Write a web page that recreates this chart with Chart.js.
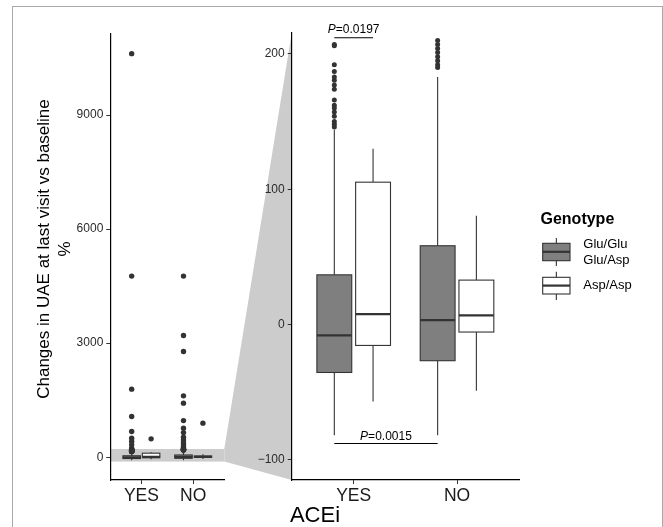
<!DOCTYPE html>
<html><head><meta charset="utf-8">
<script src="https://cdn.jsdelivr.net/npm/chart.js@4.4.1/dist/chart.umd.min.js"></script>
<style>
html,body{margin:0;padding:0;background:#fff;}
#wrap{position:relative;width:663px;height:527px;overflow:hidden;background:#fff;}
.cv{position:absolute;left:0;top:0;width:663px;height:527px;}
#frame{position:absolute;left:11.5px;top:5.5px;width:651px;height:560px;border:1.5px solid #a9a9a9;box-sizing:border-box;}
</style></head><body>
<div id="wrap"><div id="frame"></div>
<div class="cv"><canvas id="cL"></canvas></div>
<div class="cv"><canvas id="cR"></canvas></div>
</div>
<script>
// ---------- data ----------
const categories = ['YES', 'NO'];
const genotypes = ['Glu/Glu\nGlu/Asp', 'Asp/Asp'];
// box statistics, one entry per category [YES, NO]
const gluLow  = [-82, -82];
const gluQ1   = [-35.5, -26.8];
const gluMed  = [-8.1, 3.2];
const gluQ3   = [36.7, 58.2];
const gluHigh = [144, 183];
const aspLow  = [-57, -49];
const aspQ1   = [-15.5, -5.6];
const aspMed  = [7.7, 6.7];
const aspQ3   = [105.2, 32.8];
const aspHigh = [130, 80.3];
// outliers
const gluOutYes = [10615, 4764, 1790, 1069, 674, 500, 411, 324, 237, 207, 206, 192, 187, 183, 180.6, 177, 174, 166, 162, 160, 157, 154, 150, 148, 146];
const aspOutYes = [482];
const gluOutNo  = [4764, 3200, 2780, 1613, 1421, 963, 763, 647, 526, 450, 380, 320, 260, 230, 210, 207, 204, 201, 198, 195, 192, 190];
const aspOutNo  = [895];
// ticks and ranges
const leftTicks  = [0, 3000, 6000, 9000];
const rightTicks = [-100, 0, 100, 200];
const fullRange  = [-600, 11150];
const zoomRange  = [-115, 215.5];
// significance brackets: [category, genotype] pairs
const comparisons = [
  {a: [0, 0], b: [0, 1], y: 212, p: '0.0197'},
  {a: [0, 0], b: [1, 0], y: -88, p: '0.0015'}
];
const yTitle = ['Changes in UAE at last visit vs baseline', '%'];
const xTitle = 'ACEi';
const legendTitle = 'Genotype';

// ---------- styling ----------
const FONT = "'Liberation Sans', Arial, Helvetica, sans-serif";
Chart.defaults.font.family = FONT;
const DODGE = [-0.1875, 0.1875];
const HALF = 0.16875;
const FILLS = ['#7f7f7f', '#ffffff'];
const LINE = '#333333';
const stats = [
  {low: gluLow, q1: gluQ1, med: gluMed, q3: gluQ3, high: gluHigh},
  {low: aspLow, q1: aspQ1, med: aspMed, q3: aspQ3, high: aspHigh}
];
const outliers = [[gluOutYes, gluOutNo], [aspOutYes, aspOutNo]];

function outlierData(g) {
  const pts = [];
  outliers[g].forEach((arr, c) => arr.forEach(v => pts.push({x: c + 1 + DODGE[g], y: v})));
  return pts;
}

function drawBoxes(chart) {
  const ctx = chart.ctx, xs = chart.scales.x, ys = chart.scales.y;
  ctx.save();
  ctx.beginPath();
  ctx.rect(chart.chartArea.left, chart.chartArea.top, chart.chartArea.right - chart.chartArea.left, chart.chartArea.bottom - chart.chartArea.top);
  ctx.clip();
  for (let g = 0; g < 2; g++) {
    const s = stats[g];
    for (let c = 0; c < categories.length; c++) {
      const cx = xs.getPixelForValue(c + 1 + DODGE[g]);
      const x0 = xs.getPixelForValue(c + 1 + DODGE[g] - HALF);
      const x1 = xs.getPixelForValue(c + 1 + DODGE[g] + HALF);
      const yl = ys.getPixelForValue(s.low[c]), y1 = ys.getPixelForValue(s.q1[c]);
      const ym = ys.getPixelForValue(s.med[c]), y3 = ys.getPixelForValue(s.q3[c]);
      const yh = ys.getPixelForValue(s.high[c]);
      ctx.strokeStyle = LINE; ctx.lineWidth = 1.1;
      ctx.beginPath(); ctx.moveTo(cx, y1); ctx.lineTo(cx, yl); ctx.moveTo(cx, y3); ctx.lineTo(cx, yh); ctx.stroke();
      ctx.fillStyle = FILLS[g];
      ctx.fillRect(x0, y3, x1 - x0, y1 - y3);
      ctx.strokeRect(x0, y3, x1 - x0, y1 - y3);
      ctx.lineWidth = 2.2;
      ctx.beginPath(); ctx.moveTo(x0, ym); ctx.lineTo(x1, ym); ctx.stroke();
    }
  }
  ctx.restore();
}

function scaleOpts(range, ticks, yWidth) {
  return {
    x: {
      type: 'linear', min: 0.4, max: 2.6,
      afterBuildTicks: s => { s.ticks = [{value: 1}, {value: 2}]; },
      afterFit: s => { s.height = 47; },
      ticks: {callback: v => categories[v - 1], color: '#1a1a1a', font: {size: 17.5}, padding: 1.5, maxRotation: 0, autoSkip: false},
      grid: {display: true, drawOnChartArea: false, drawTicks: true, tickLength: 4, color: LINE, lineWidth: 1},
      border: {display: true, color: '#000', width: 1.2}
    },
    y: {
      type: 'linear', min: range[0], max: range[1],
      afterBuildTicks: s => { s.ticks = ticks.map(v => ({value: v})); },
      afterFit: s => { s.width = yWidth; },
      ticks: {callback: v => v < 0 ? '\u2212' + Math.abs(v) : String(v), color: '#2b2b2b', font: {size: 12}, padding: 3},
      grid: {display: true, drawOnChartArea: false, drawTicks: true, tickLength: 4, color: LINE, lineWidth: 1},
      border: {display: true, color: '#000', width: 1.2}
    }
  };
}

function datasets(r) {
  return [0, 1].map(g => ({
    data: outlierData(g), pointRadius: r, pointHoverRadius: r, backgroundColor: LINE, borderWidth: 0, clip: 0
  }));
}

const baseOpts = {
  responsive: true, maintainAspectRatio: false, animation: false, events: [],
  plugins: {legend: {display: false}, tooltip: {enabled: false}}
};

// ---------- left (full range) panel ----------
const leftChart = new Chart(document.getElementById('cL'), {
  type: 'scatter',
  data: {datasets: datasets(2.7)},
  options: Object.assign({}, baseOpts, {
    layout: {autoPadding: false, padding: {left: 0, top: 33.3, right: 663 - 224.3, bottom: 0}},
    scales: scaleOpts(fullRange, leftTicks, 110.3)
  }),
  plugins: [{
    id: 'band',
    beforeDraw(chart) {
      const ctx = chart.ctx, a = chart.chartArea, ys = chart.scales.y;
      const t = ys.getPixelForValue(zoomRange[1]), b = ys.getPixelForValue(zoomRange[0]);
      ctx.save(); ctx.fillStyle = '#cccccc';
      ctx.fillRect(a.left, t, a.right - a.left, b - t);
      ctx.restore();
    },
    beforeDatasetsDraw: drawBoxes
  }]
});

// ---------- right (zoomed) panel ----------
new Chart(document.getElementById('cR'), {
  type: 'scatter',
  data: {datasets: datasets(2.5)},
  options: Object.assign({}, baseOpts, {
    layout: {autoPadding: false, padding: {left: 0, top: 33, right: 663 - 519, bottom: 0}},
    scales: scaleOpts(zoomRange, rightTicks, 291.7)
  }),
  plugins: [{
    id: 'zoomlink',
    beforeDraw(chart) {
      const ctx = chart.ctx, a = chart.chartArea;
      const la = leftChart.chartArea, ly = leftChart.scales.y;
      ctx.save(); ctx.fillStyle = '#cccccc';
      ctx.beginPath();
      ctx.moveTo(la.right, ly.getPixelForValue(zoomRange[1]));
      ctx.lineTo(a.left, a.top);
      ctx.lineTo(a.left, a.bottom);
      ctx.lineTo(la.right, ly.getPixelForValue(zoomRange[0]));
      ctx.closePath(); ctx.fill();
      ctx.restore();
    },
    beforeDatasetsDraw: drawBoxes,
    afterDraw(chart) {
      const ctx = chart.ctx, xs = chart.scales.x, ys = chart.scales.y;
      ctx.save();
      // significance brackets
      comparisons.forEach((cmp, i) => {
        const xa = xs.getPixelForValue(cmp.a[0] + 1 + DODGE[cmp.a[1]]);
        const xb = xs.getPixelForValue(cmp.b[0] + 1 + DODGE[cmp.b[1]]);
        const y = ys.getPixelForValue(cmp.y);
        ctx.strokeStyle = '#000'; ctx.lineWidth = 1.2;
        ctx.beginPath(); ctx.moveTo(xa, y); ctx.lineTo(xb, y); ctx.stroke();
        ctx.fillStyle = '#000'; ctx.textBaseline = 'alphabetic';
        ctx.font = 'italic 12px ' + FONT; const w1 = ctx.measureText('P').width;
        ctx.font = '12px ' + FONT; const w2 = ctx.measureText('=' + cmp.p).width;
        const sx = (xa + xb) / 2 - (w1 + w2) / 2;
        const gap = i === 0 ? 5 : 3.5;
        ctx.textAlign = 'left';
        ctx.font = 'italic 12px ' + FONT; ctx.fillText('P', sx, y - gap);
        ctx.font = '12px ' + FONT; ctx.fillText('=' + cmp.p, sx + w1, y - gap);
      });
      // axis titles
      ctx.fillStyle = '#000'; ctx.textAlign = 'center'; ctx.textBaseline = 'middle';
      ctx.font = '22px ' + FONT;
      ctx.fillText(xTitle, 315, 516);
      ctx.save();
      ctx.translate(0, 249); ctx.rotate(-Math.PI / 2);
      ctx.font = '17px ' + FONT;
      ctx.fillText(yTitle[0], 0, 44);
      ctx.fillText(yTitle[1], 0, 65);
      ctx.restore();
      // legend
      ctx.textAlign = 'left'; ctx.textBaseline = 'alphabetic';
      ctx.font = 'bold 16px ' + FONT; ctx.fillStyle = '#000';
      ctx.fillText(legendTitle, 540.5, 223.5);
      const keys = [{t: 243.3, b: 260.7, m: 251.8, wt: 238, wb: 266}, {t: 277.3, b: 294, m: 285.6, wt: 271.7, wb: 300}];
      keys.forEach((k, g) => {
        const x0 = 542.7, x1 = 570, cx = (x0 + x1) / 2;
        ctx.strokeStyle = LINE; ctx.lineWidth = 1.1;
        ctx.beginPath(); ctx.moveTo(cx, k.wt); ctx.lineTo(cx, k.wb); ctx.stroke();
        ctx.fillStyle = FILLS[g]; ctx.fillRect(x0, k.t, x1 - x0, k.b - k.t);
        ctx.strokeRect(x0, k.t, x1 - x0, k.b - k.t);
        ctx.lineWidth = 2.2; ctx.beginPath(); ctx.moveTo(x0, k.m); ctx.lineTo(x1, k.m); ctx.stroke();
        ctx.fillStyle = '#000'; ctx.font = '13px ' + FONT; ctx.textBaseline = 'middle';
        const lines = genotypes[g].split('\n');
        const mid = (k.t + k.b) / 2;
        lines.forEach((ln, i) => ctx.fillText(ln, 583.3, mid + (i - (lines.length - 1) / 2) * 16));
      });
      ctx.restore();
    }
  }]
});
</script>
</body></html>
